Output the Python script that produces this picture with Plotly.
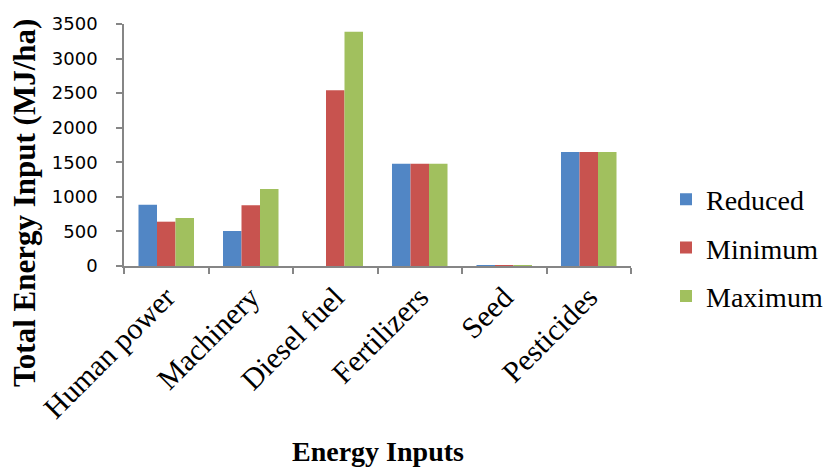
import plotly.graph_objects as go

categories = ["Human power", "Machinery", "Diesel fuel", "Fertilizers", "Seed", "Pesticides"]
reduced = [887, 506, 0, 1480, 8, 1649]
minimum = [641, 878, 2541, 1480, 8, 1649]
maximum = [694, 1114, 3389, 1480, 8, 1649]
series_names = ["Reduced", "Minimum", "Maximum"]
colors = ["#5186C5", "#C8534F", "#A1C05E"]
y_ticks = [0, 500, 1000, 1500, 2000, 2500, 3000, 3500]

fig = go.Figure()
for name, vals, col in zip(series_names, [reduced, minimum, maximum], colors):
    fig.add_trace(go.Bar(name=name, x=categories, y=vals, marker_color=col,
                         marker_line_width=0, legendgroup=name))

W, H = 828, 470
L, R, T, B = 124, 197, 24, 204
pw, ph = W - L - R, H - T - B

fig.update_layout(
    width=W, height=H,
    margin=dict(l=L, r=R, t=T, b=B, autoexpand=False),
    paper_bgcolor="white", plot_bgcolor="white",
    barmode="group", bargap=0.343, bargroupgap=0,
    showlegend=True,
    legend=dict(
        x=(666 - L) / pw, xanchor="left",
        y=(266 - 248) / ph, yanchor="middle",
        font=dict(family="Liberation Serif", size=28, color="black"),
        traceorder="grouped", tracegroupgap=9,
        bgcolor="rgba(0,0,0,0)",
    ),
    xaxis=dict(
        showline=True, linecolor="#868686", linewidth=1.5,
        ticks="outside", tickson="boundaries", ticklen=6, tickcolor="#868686", tickwidth=1.5,
        tickangle=-45,
        tickfont=dict(family="Liberation Serif", size=30, color="black"),
        showgrid=False,
    ),
    yaxis=dict(
        range=[0, 3500], tickvals=y_ticks, ticktext=[str(v) for v in y_ticks],
        showline=True, linecolor="#868686", linewidth=1.5,
        ticks="outside", ticklen=6, tickcolor="#868686", tickwidth=1.5,
        tickfont=dict(family="DejaVu Sans", size=18, color="black"),
        ticklabelstandoff=15,
        showgrid=False, zeroline=False,
    ),
    annotations=[
        dict(text="<b>Total Energy Input (MJ/ha)</b>", xref="paper", yref="paper",
             x=(24 - L) / pw, y=(266 - 203) / ph, xanchor="center", yanchor="middle",
             textangle=-90, showarrow=False,
             font=dict(family="Liberation Serif", size=31, color="black")),
        dict(text="<b>Energy Inputs</b>", xref="paper", yref="paper",
             x=0.5, y=(266 - 451) / ph, xanchor="center", yanchor="middle",
             showarrow=False,
             font=dict(family="Liberation Serif", size=28, color="black")),
    ],
)

fig.write_html("out.html", config={"displayModeBar": False},
               post_script="document.body.style.margin='0';document.body.style.padding='0';document.body.style.overflow='hidden';")
